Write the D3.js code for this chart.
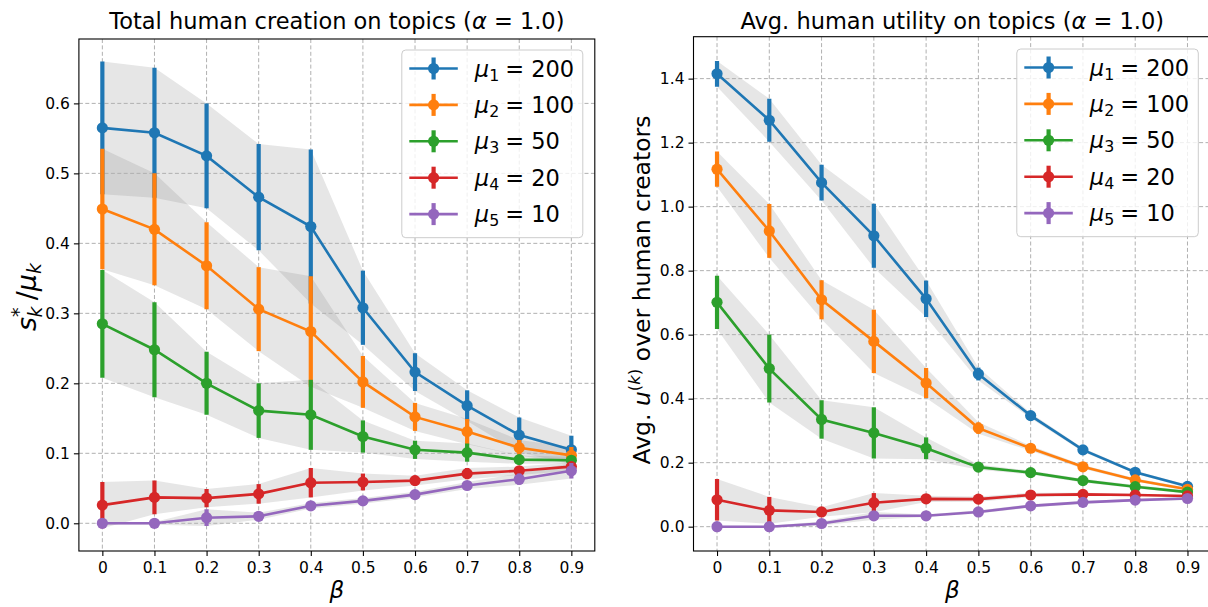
<!DOCTYPE html>
<html><head><meta charset="utf-8">
<script src="https://cdn.jsdelivr.net/npm/d3@7"></script>
<style>
body{margin:0;background:#fff}
svg{display:block}
text{font-family:"DejaVu Sans",sans-serif;fill:#000}
</style>
</head><body>
<svg id="c" width="1208" height="607"></svg>
<script>
// ---------------- data ----------------
const betas = [0, 0.1, 0.2, 0.3, 0.4, 0.5, 0.6, 0.7, 0.8, 0.9];
const xTickLabels = ["0", "0.1", "0.2", "0.3", "0.4", "0.5", "0.6", "0.7", "0.8", "0.9"];
const seriesSub = ["1", "2", "3", "4", "5"];
const seriesMu = ["200", "100", "50", "20", "10"];
const seriesColors = ["#1f77b4", "#ff7f0e", "#2ca02c", "#d62728", "#9467bd"];

// left: s*_k / mu_k
const creationMean = [
  [0.565, 0.558, 0.525, 0.466, 0.424, 0.308, 0.216, 0.168, 0.126, 0.105],
  [0.449, 0.420, 0.368, 0.306, 0.274, 0.202, 0.152, 0.131, 0.108, 0.097],
  [0.285, 0.248, 0.200, 0.161, 0.155, 0.124, 0.105, 0.101, 0.091, 0.090],
  [0.026, 0.037, 0.036, 0.042, 0.058, 0.059, 0.061, 0.071, 0.075, 0.081],
  [0.000, 0.000, 0.008, 0.010, 0.025, 0.032, 0.041, 0.054, 0.063, 0.075]
];
const creationErr = [
  [0.095, 0.093, 0.075, 0.076, 0.110, 0.053, 0.027, 0.022, 0.025, 0.020],
  [0.086, 0.080, 0.062, 0.060, 0.079, 0.037, 0.020, 0.018, 0.011, 0.012],
  [0.077, 0.068, 0.045, 0.039, 0.050, 0.023, 0.013, 0.013, 0.006, 0.005],
  [0.033, 0.024, 0.013, 0.014, 0.021, 0.012, 0.007, 0.008, 0.006, 0.006],
  [0.002, 0.002, 0.012, 0.005, 0.004, 0.004, 0.004, 0.005, 0.008, 0.011]
];
const creationYTicks = [0, 0.1, 0.2, 0.3, 0.4, 0.5, 0.6];
const creationYLabels = ["0.0", "0.1", "0.2", "0.3", "0.4", "0.5", "0.6"];

// right: avg u^(k)
const utilityMean = [
  [1.415, 1.270, 1.075, 0.909, 0.712, 0.477, 0.347, 0.240, 0.170, 0.126],
  [1.117, 0.924, 0.709, 0.579, 0.449, 0.308, 0.245, 0.187, 0.146, 0.117],
  [0.701, 0.494, 0.335, 0.293, 0.245, 0.186, 0.169, 0.144, 0.125, 0.108],
  [0.084, 0.051, 0.046, 0.075, 0.087, 0.086, 0.099, 0.101, 0.099, 0.096],
  [0.000, 0.000, 0.010, 0.034, 0.034, 0.046, 0.065, 0.076, 0.083, 0.088]
];
const utilityErr = [
  [0.040, 0.067, 0.056, 0.100, 0.057, 0.020, 0.008, 0.006, 0.005, 0.005],
  [0.055, 0.084, 0.061, 0.099, 0.047, 0.018, 0.008, 0.006, 0.005, 0.005],
  [0.083, 0.106, 0.060, 0.080, 0.034, 0.008, 0.006, 0.006, 0.005, 0.005],
  [0.065, 0.042, 0.015, 0.030, 0.010, 0.008, 0.007, 0.005, 0.004, 0.004],
  [0.003, 0.003, 0.006, 0.012, 0.004, 0.005, 0.005, 0.004, 0.004, 0.005]
];
const utilityYTicks = [0, 0.2, 0.4, 0.6, 0.8, 1.0, 1.2, 1.4];
const utilityYLabels = ["0.0", "0.2", "0.4", "0.6", "0.8", "1.0", "1.2", "1.4"];

// ---------------- drawing ----------------
const svg = d3.select("#c");
let clipId = 0;

function drawPanel(o) {
  const g = svg.append("g");
  const x = d3.scaleLinear().domain([-0.045, 0.945]).range([o.x0, o.x1]);
  const y = d3.scaleLinear().domain(o.ydom).range([o.yb, o.yt]);
  const id = "clip" + (clipId++);
  svg.append("defs").append("clipPath").attr("id", id)
    .append("rect").attr("x", o.x0).attr("y", o.yt).attr("width", o.x1 - o.x0).attr("height", o.yb - o.yt);
  const plot = g.append("g").attr("clip-path", `url(#${id})`);

  // bands
  const area = d3.area().x((d, i) => x(betas[i])).y0(d => y(d[0] - d[1])).y1(d => y(d[0] + d[1]));
  o.mean.forEach((m, s) => {
    plot.append("path").datum(m.map((v, i) => [v, o.err[s][i]]))
      .attr("d", area).attr("fill", "#808080").attr("fill-opacity", 0.2);
  });

  // grid
  const grid = plot.append("g").attr("stroke", "#b0b0b0").attr("stroke-width", 1).attr("stroke-dasharray", "4,2.4");
  betas.forEach(b => grid.append("line").attr("x1", x(b)).attr("x2", x(b)).attr("y1", o.yt).attr("y2", o.yb));
  o.yticks.forEach(t => grid.append("line").attr("y1", y(t)).attr("y2", y(t)).attr("x1", o.x0).attr("x2", o.x1));

  // series
  const line = d3.line().x((d, i) => x(betas[i])).y(d => y(d));
  o.mean.forEach((m, s) => {
    const c = seriesColors[s];
    const sg = plot.append("g");
    m.forEach((v, i) => {
      sg.append("line").attr("x1", x(betas[i])).attr("x2", x(betas[i]))
        .attr("y1", y(v - o.err[s][i])).attr("y2", y(v + o.err[s][i]))
        .attr("stroke", c).attr("stroke-width", 4.2);
    });
    sg.append("path").datum(m).attr("d", line).attr("fill", "none").attr("stroke", c).attr("stroke-width", 2.6);
    sg.selectAll("circle").data(m).enter().append("circle")
      .attr("cx", (d, i) => x(betas[i])).attr("cy", d => y(d)).attr("r", 5.6).attr("fill", c);
  });

  // axes
  const xAxis = d3.axisBottom(x).tickValues(betas).tickFormat((d, i) => xTickLabels[i]).tickSizeOuter(0).tickSize(5).tickPadding(4);
  const gx = g.append("g").attr("transform", `translate(0,${o.yb})`).call(xAxis);
  const yAxis = d3.axisLeft(y).tickValues(o.yticks).tickFormat((d, i) => o.ylabels[i]).tickSizeOuter(0).tickSize(5).tickPadding(4);
  const gy = g.append("g").attr("transform", `translate(${o.x0},0)`).call(yAxis);
  [gx, gy].forEach(a => {
    a.select(".domain").remove();
    a.selectAll("text").style("font-family", "DejaVu Sans").style("font-size", "15.5px").attr("fill", "#000");
    a.selectAll("line").attr("stroke", "#000").attr("stroke-width", 1.1);
  });
  gx.selectAll("text").attr("dy", "0.85em");
  // spines
  g.append("rect").attr("x", o.x0).attr("y", o.yt).attr("width", o.x1 - o.x0).attr("height", o.yb - o.yt)
    .attr("fill", "none").attr("stroke", "#000").attr("stroke-width", 1.1);

  // title
  const t = g.append("text").attr("x", (o.x0 + o.x1) / 2).attr("y", 28.5).attr("text-anchor", "middle").style("font-size", "22.5px");
  t.append("tspan").text(o.title + " (");
  t.append("tspan").style("font-style", "italic").text("α");
  t.append("tspan").text(" = 1.0)");

  // x label
  g.append("text").attr("x", (o.x0 + o.x1) / 2).attr("y", 598).attr("text-anchor", "middle")
    .style("font-size", "23px").style("font-style", "italic").text("β");

  // legend
  const L = o.legend;
  const lg = g.append("g");
  lg.append("rect").attr("x", L.x).attr("y", L.y).attr("width", L.w).attr("height", L.h).attr("rx", 4)
    .attr("fill", "#fff").attr("fill-opacity", 0.8).attr("stroke", "#cccccc").attr("stroke-width", 1);
  seriesSub.forEach((sub, s) => {
    const cy = L.y + 18.5 + s * 36.4;
    const c = seriesColors[s];
    lg.append("line").attr("x1", L.x + 7.5).attr("x2", L.x + 56).attr("y1", cy).attr("y2", cy).attr("stroke", c).attr("stroke-width", 2.6);
    lg.append("line").attr("x1", L.x + 31.8).attr("x2", L.x + 31.8).attr("y1", cy - 11).attr("y2", cy + 11).attr("stroke", c).attr("stroke-width", 4.2);
    lg.append("circle").attr("cx", L.x + 31.8).attr("cy", cy).attr("r", 5.6).attr("fill", c);
    const tx = lg.append("text").attr("x", L.x + 73).attr("y", cy + 8).style("font-size", "22.5px");
    tx.append("tspan").style("font-style", "italic").text("μ");
    tx.append("tspan").attr("dy", 4).style("font-size", "15.8px").text(sub);
    tx.append("tspan").attr("dy", -4).attr("dx", 6).text("= " + seriesMu[s]);
  });
  return g;
}

drawPanel({
  x0: 78.9, x1: 594.8, yt: 39, yb: 551, ydom: [-0.0396, 0.692],
  mean: creationMean, err: creationErr, yticks: creationYTicks, ylabels: creationYLabels,
  title: "Total human creation on topics",
  legend: { x: 401.8, y: 50, w: 181, h: 187.7 }
});
drawPanel({
  x0: 693.5, x1: 1211, yt: 36.7, yb: 551, ydom: [-0.076, 1.531],
  mean: utilityMean, err: utilityErr, yticks: utilityYTicks, ylabels: utilityYLabels,
  title: "Avg. human utility on topics",
  legend: { x: 1016.8, y: 49, w: 181.5, h: 187.7 }
});

// y labels
const yl1 = svg.append("text").attr("transform", "translate(36,297) rotate(-90)").attr("text-anchor", "middle").style("font-size", "27px");
yl1.append("tspan").style("font-style", "italic").text("s");
yl1.append("tspan").attr("dy", -11).style("font-size", "19px").text("*");
yl1.append("tspan").attr("dy", 17).attr("dx", -10).style("font-size", "19px").style("font-style", "italic").text("k");
yl1.append("tspan").attr("dy", -6).attr("dx", 6).text("/");
yl1.append("tspan").style("font-style", "italic").text("μ");
yl1.append("tspan").attr("dy", 5).style("font-size", "19px").style("font-style", "italic").text("k");

const yl2 = svg.append("text").attr("transform", "translate(650,290) rotate(-90)").attr("text-anchor", "middle").style("font-size", "23.5px");
yl2.append("tspan").text("Avg. ");
yl2.append("tspan").style("font-style", "italic").text("u");
yl2.append("tspan").attr("dy", -10).style("font-size", "16.5px").text("(");
yl2.append("tspan").style("font-size", "16.5px").style("font-style", "italic").text("k");
yl2.append("tspan").style("font-size", "16.5px").text(")");
yl2.append("tspan").attr("dy", 10).text(" over human creators");
</script>
</body></html>
